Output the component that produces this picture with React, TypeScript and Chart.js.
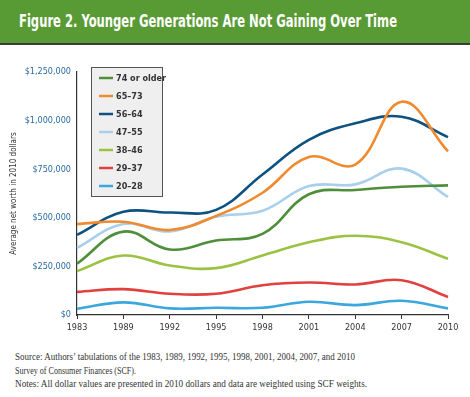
import React, { useEffect, useLayoutEffect, useRef } from "react";
import { Chart, registerables } from "chart.js";

Chart.register(...registerables);

const years = ["1983", "1989", "1992", "1995", "1998", "2001", "2004", "2007", "2010"];
const seriesLabels = ["74 or older", "65–73", "56–64", "47–55", "38–46", "29–37", "20–28"];
const seriesColors = ["#4f8f3b", "#f08a2e", "#0e5282", "#a9cfea", "#9cc243", "#e0413f", "#3ba7dc"];
const age74plus = [264000, 429000, 337000, 383000, 417000, 621000, 643000, 660000, 667000];
const age65to73 = [468000, 480000, 437000, 510000, 629000, 813000, 774000, 1097000, 842000];
const age56to64 = [412000, 531000, 527000, 541000, 723000, 901000, 986000, 1020000, 915000];
const age47to55 = [345000, 468000, 430000, 505000, 536000, 663000, 672000, 753000, 607000];
const age38to46 = [226000, 306000, 255000, 241000, 306000, 374000, 408000, 374000, 289000];
const age29to37 = [119000, 133000, 109000, 109000, 153000, 167000, 157000, 179000, 93000];
const age20to28 = [32000, 65000, 34000, 37000, 37000, 68000, 51000, 73000, 34000];
const seriesValues = [age74plus, age65to73, age56to64, age47to55, age38to46, age29to37, age20to28];
const yTicksMax = 1250000;
const yStep = 250000;

const titleText = "Figure 2. Younger Generations Are Not Gaining Over Time";
const yAxisTitle = "Average net worth in 2010 dollars";
const footLines = [
  "Source: Authors’ tabulations of the 1983, 1989, 1992, 1995, 1998, 2001, 2004, 2007, and 2010",
  "Survey of Consumer Finances (SCF).",
  "Notes: All dollar values are presented in 2010 dollars and data are weighted using SCF weights.",
];

const narrow = "'Liberation Sans Narrow', 'DejaVu Sans Condensed', 'Roboto Condensed', sans-serif";

function FitText(props: { text: string; width: number; style: React.CSSProperties }) {
  const ref = useRef<HTMLSpanElement>(null);
  useLayoutEffect(() => {
    const el = ref.current;
    if (!el) return;
    el.style.transform = "none";
    const w = el.getBoundingClientRect().width;
    if (w > 0) el.style.transform = `scaleX(${props.width / w})`;
  }, [props.text, props.width]);
  return (
    <span
      ref={ref}
      style={{ display: "inline-block", whiteSpace: "nowrap", transformOrigin: "left center", ...props.style }}
    >
      {props.text}
    </span>
  );
}

const legendPlugin = {
  id: "boxLegend",
  afterDatasetsDraw(chart: any) {
    const ctx = chart.ctx;
    const area = chart.chartArea;
    const left = area.left + 14;
    const top = area.top - 5;
    const w = 72;
    const h = 130;
    ctx.save();
    ctx.fillStyle = "#efefef";
    ctx.fillRect(left, top, w, h);
    ctx.strokeStyle = "#555555";
    ctx.lineWidth = 1;
    ctx.strokeRect(left + 0.5, top + 0.5, w - 1, h - 1);
    chart.data.datasets.forEach((ds: any, i: number) => {
      const y = top + 11 + i * 18;
      ctx.strokeStyle = ds.borderColor;
      ctx.lineWidth = 2.5;
      ctx.beginPath();
      ctx.moveTo(left + 8, y);
      ctx.lineTo(left + 22, y);
      ctx.stroke();
      ctx.fillStyle = "#333333";
      ctx.font = `bold 9px ${narrow}`;
      ctx.textBaseline = "middle";
      ctx.textAlign = "left";
      ctx.fillText(ds.label, left + 25, y + 0.5);
    });
    ctx.restore();
  },
};

export default function App() {
  const canvasRef = useRef<HTMLCanvasElement>(null);

  useEffect(() => {
    const canvas = canvasRef.current;
    if (!canvas) return;
    const chart = new Chart(canvas, {
      type: "line",
      data: {
        labels: years,
        datasets: seriesLabels.map((label, i) => ({
          label,
          data: seriesValues[i],
          borderColor: seriesColors[i],
          backgroundColor: seriesColors[i],
          borderWidth: 2.6,
          pointRadius: 0,
          tension: 0.4,
          fill: false,
        })),
      },
      options: {
        responsive: false,
        animation: false,
        layout: { padding: { top: 22, right: 22, bottom: 0, left: 0 } },
        plugins: { legend: { display: false }, tooltip: { enabled: false } },
        scales: {
          x: {
            type: "category",
            offset: false,
            grid: { display: true, drawOnChartArea: false, drawTicks: true, tickLength: 4, color: "#333333" },
            border: { display: true, color: "#333333", width: 1.2 },
            ticks: { color: "#333333", font: { family: narrow, size: 9 }, padding: 3, maxRotation: 0, autoSkip: false },
            afterFit(scale: any) {
              scale.height = 25;
            },
          },
          y: {
            min: 0,
            max: yTicksMax,
            grid: { display: false, drawTicks: false },
            border: { display: true, color: "#333333", width: 1.2 },
            ticks: {
              stepSize: yStep,
              color: "#2a6aa3",
              padding: 6,
              font: { family: narrow, size: 9 },
              callback: (v: any) => "$" + Number(v).toLocaleString("en-US"),
            },
            title: {
              display: true,
              text: yAxisTitle,
              color: "#333333",
              font: { family: narrow, size: 8 },
              padding: { top: 9, bottom: 0 },
            },
            afterFit(scale: any) {
              scale.width = 77;
            },
          },
        },
      },
      plugins: [legendPlugin],
    } as any);
    return () => chart.destroy();
  }, []);

  return (
    <div style={{ position: "absolute", left: 0, top: 0, width: 470, height: 397, background: "#ffffff", overflow: "hidden" }}>
      <div
        style={{
          position: "absolute",
          left: 0,
          top: 0,
          width: 470,
          height: 43,
          background: "#589a34",
          borderBottom: "2px solid #3b3b3b",
        }}
      >
        <div style={{ position: "absolute", left: 19, top: 10 }}>
          <FitText
            text={titleText}
            width={378}
            style={{ color: "#ffffff", fontFamily: narrow, fontWeight: "bold", fontSize: 18, lineHeight: "22px" }}
          />
        </div>
      </div>
      <canvas ref={canvasRef} width={470} height={290} style={{ position: "absolute", left: 0, top: 50, width: 470, height: 290 }} />
      {footLines.map((line, i) => (
        <div key={i} style={{ position: "absolute", left: 15, top: 346 + i * 13.5 }}>
          <FitText
            text={line}
            width={[340, 121, 352][i]}
            style={{ color: "#333333", fontFamily: "'Liberation Serif', 'DejaVu Serif', serif", fontSize: 9.5, lineHeight: "12px" }}
          />
        </div>
      ))}
    </div>
  );
}
